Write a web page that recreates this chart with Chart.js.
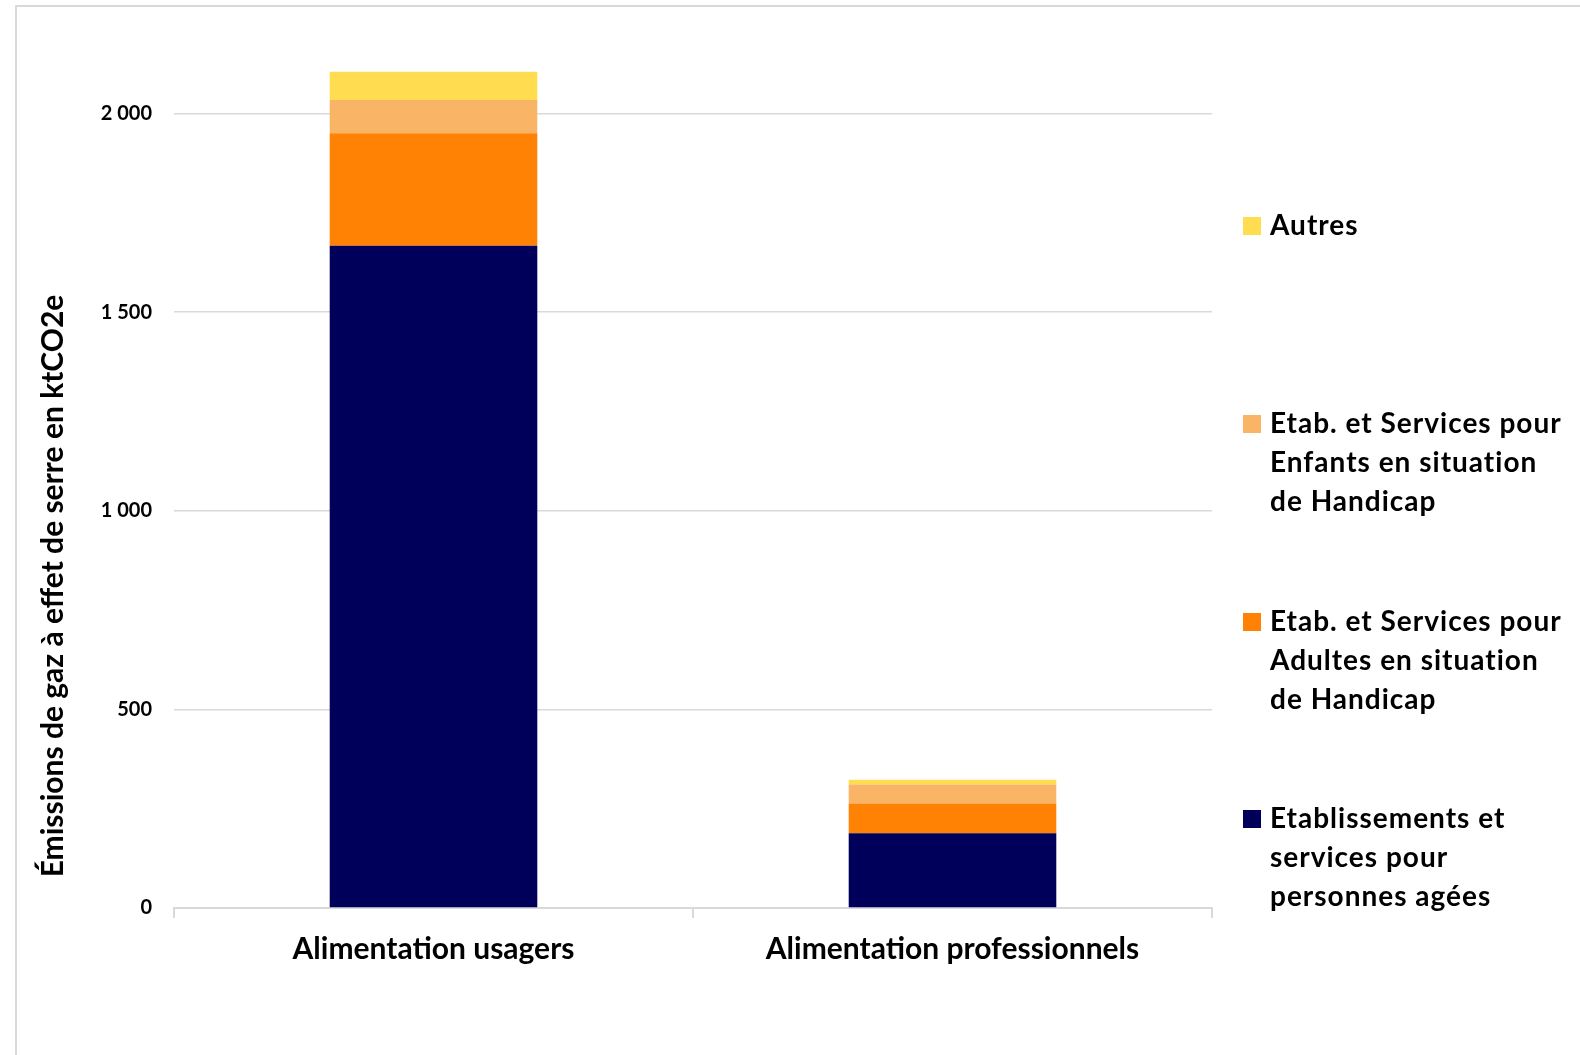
<!DOCTYPE html>
<html>
<head>
<meta charset="utf-8">
<script src="https://cdn.jsdelivr.net/npm/chart.js@4.4.1/dist/chart.umd.min.js"></script>
<style>
  body { margin: 0; background: #fff; }
  #wrap { position: relative; width: 1580px; height: 1055px; overflow: hidden; }
  #frame { position: absolute; left: 15px; top: 5px; right: -10px; bottom: -10px;
           border-left: 2px solid #d9d9d9; border-top: 2px solid #d9d9d9; }
  #legend { position: absolute; left: 1243px; top: 0; font-family: Lato, sans-serif;
            font-weight: bold; font-size: 28px; line-height: 39px; letter-spacing: 1px; color: #000; }
  .item { position: absolute; left: 0; white-space: pre; }
  .box { position: absolute; left: 0; top: 12px; width: 18px; height: 18px; }
  .txt { position: absolute; left: 27px; top: 0; }
</style>
</head>
<body>
<div id="wrap">
  <div id="frame"></div>
  <canvas id="chart" width="1580" height="1055"></canvas>
  <div id="legend"></div>
</div>
<script>
// categories and stacked series (ktCO2e), bottom to top
const categories = ['Alimentation usagers', 'Alimentation professionnels'];
const personnesAgees = [1667, 188];
const adultesHandicap = [283, 75];
const enfantsHandicap = [84, 48];
const autres = [71, 12];
const yTicks = [0, 500, 1000, 1500, 2000];

const seriesNames = [
  'Etablissements et\nservices pour\npersonnes agées',
  'Etab. et Services pour\nAdultes en situation\nde Handicap',
  'Etab. et Services pour\nEnfants en situation\nde Handicap',
  'Autres'
];
const seriesColors = ['#00005a', '#ff8204', '#fab466', '#ffdc50'];
const seriesValues = [personnesAgees, adultesHandicap, enfantsHandicap, autres];

const fmt = (v) => v >= 1000 ? Math.floor(v / 1000) + ' ' + String(v % 1000).padStart(3, '0') : String(v);

const yTitle = {
  id: 'yTitle',
  afterDraw(chart) {
    const ctx = chart.ctx;
    ctx.save();
    ctx.translate(53, 586);
    ctx.rotate(-Math.PI / 2);
    ctx.font = 'bold 30px Lato';
    ctx.fillStyle = '#000';
    ctx.textAlign = 'center';
    ctx.textBaseline = 'middle';
    ctx.fillText('Émissions de gaz à effet de serre en ktCO2e', 0, 0);
    ctx.restore();
  }
};

new Chart(document.getElementById('chart'), {
  type: 'bar',
  data: {
    labels: categories,
    datasets: seriesValues.map((vals, i) => ({
      label: seriesNames[i].replace(/\n/g, ' '),
      data: vals,
      backgroundColor: seriesColors[i],
      borderWidth: 0,
      barPercentage: 0.4,
      categoryPercentage: 1
    }))
  },
  options: {
    responsive: false,
    devicePixelRatio: 1,
    animation: false,
    layout: { padding: { top: 32, right: 368, left: 0, bottom: 0 } },
    plugins: { legend: { display: false }, tooltip: { enabled: false } },
    scales: {
      x: {
        stacked: true,
        grid: { drawOnChartArea: false, tickLength: 10, color: '#d9d9d9', lineWidth: 2, offset: true },
        border: { color: '#d9d9d9', width: 2 },
        ticks: { color: '#000', font: { family: 'Lato', weight: 'bold', size: 30 }, padding: 13 },
        afterFit: (s) => { s.height = 147; }
      },
      y: {
        stacked: true,
        min: 0,
        max: 2200,
        grid: { color: '#d9d9d9', lineWidth: 1.5, drawTicks: false },
        border: { display: false },
        ticks: {
          autoSkip: false,
          color: '#000',
          padding: 22,
          font: { family: 'Lato', weight: 'bold', size: 20 },
          callback: (v) => fmt(v)
        },
        afterBuildTicks: (s) => { s.ticks = yTicks.map(v => ({ value: v })); },
        afterFit: (s) => { s.width = 174; }
      }
    }
  },
  plugins: [yTitle]
});

// legend, top entry first
const legendTops = [205, 403, 601, 798];
const legend = document.getElementById('legend');
[3, 2, 1, 0].forEach((si, k) => {
  const item = document.createElement('div');
  item.className = 'item';
  item.style.top = legendTops[k] + 'px';
  item.innerHTML = '<div class="box" style="background:' + seriesColors[si] + '"></div>';
  const t = document.createElement('div');
  t.className = 'txt';
  t.textContent = seriesNames[si];
  item.appendChild(t);
  legend.appendChild(item);
});
</script>
</body>
</html>
